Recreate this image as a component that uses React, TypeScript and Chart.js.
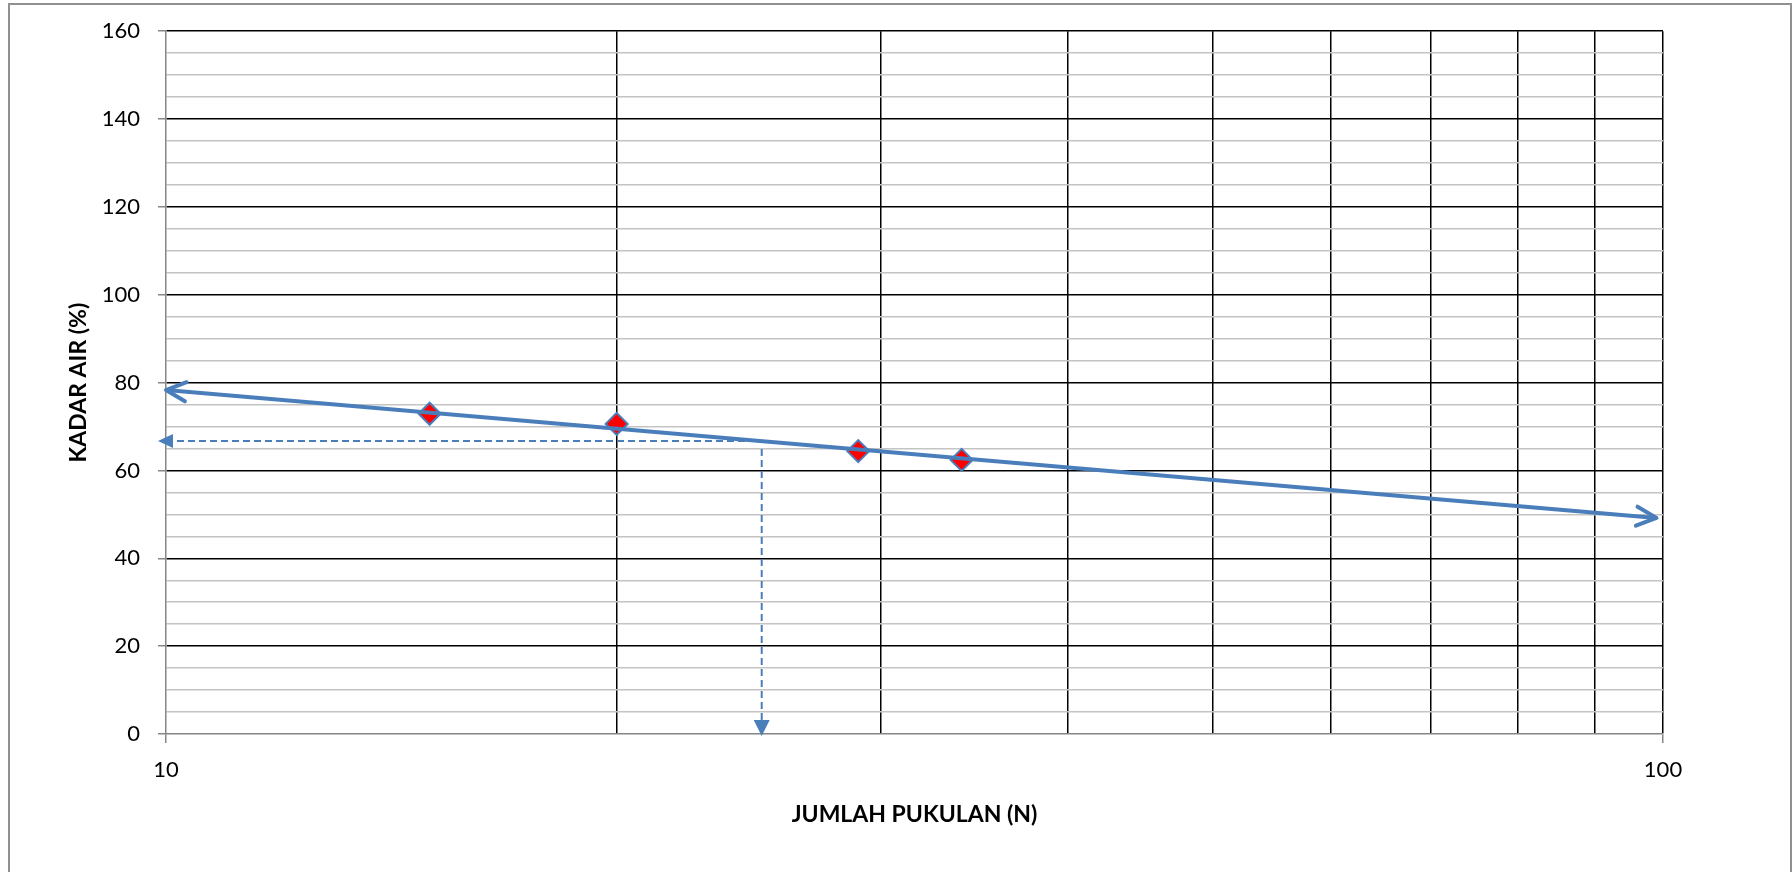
import React, { useEffect, useRef } from "react";
import { Chart, registerables } from "chart.js";

Chart.register(...registerables);

// ---- data ----
const blowCounts = [15, 20, 29, 34];
const waterContents = [72.9, 70.6, 64.4, 62.4];
const trendBlows = [10, 99];
const trendWater = [78.3, 49.2];
const guideHBlows = [10, 24.4];
const guideHWater = [66.7, 66.7];
const guideVBlows = [25, 25];
const guideVWater = [64.9, 0];
const xGridValues = [10, 20, 30, 40, 50, 60, 70, 80, 90, 100];
const xLabelValues = [10, 100];
const yMin = 0;
const yMax = 160;
const yMinorStep = 5;
const yMajorStep = 20;
const xTitle = "JUMLAH PUKULAN (N)";
const yTitle = "KADAR AIR (%)";

const BLUE = "#4A7EBB";
const AXIS_GRAY = "#868686";
const MINOR_GRAY = "#C4C4C4";
const FONT = "Lato, 'Open Sans', sans-serif";
const CLEAR = "rgba(0,0,0,0)";

const toPts = (xs: number[], ys: number[]) => xs.map((x, i) => ({ x, y: ys[i] }));

const arrowPlugin = {
  id: "arrows",
  afterDatasetsDraw(chart: any) {
    const { ctx, scales } = chart;
    const xs = scales.x;
    const ys = scales.y;
    const px = (n: number, w: number) => ({ x: xs.getPixelForValue(n), y: ys.getPixelForValue(w) });
    ctx.save();
    const a = px(trendBlows[0], trendWater[0]);
    const b = px(trendBlows[1], trendWater[1]);
    ctx.strokeStyle = BLUE;
    ctx.lineWidth = 4;
    ctx.lineCap = "round";
    ctx.lineJoin = "round";
    const chevron = (tip: any, from: any) => {
      const ang = Math.atan2(tip.y - from.y, tip.x - from.x);
      const len = 22;
      const spread = 0.45;
      ctx.beginPath();
      ctx.moveTo(tip.x - len * Math.cos(ang - spread), tip.y - len * Math.sin(ang - spread));
      ctx.lineTo(tip.x, tip.y);
      ctx.lineTo(tip.x - len * Math.cos(ang + spread), tip.y - len * Math.sin(ang + spread));
      ctx.stroke();
    };
    chevron(a, b);
    chevron(b, a);
    ctx.fillStyle = BLUE;
    const tri = (end: any, from: any, over: number, len: number, half: number) => {
      const dx = end.x - from.x;
      const dy = end.y - from.y;
      const d = Math.hypot(dx, dy) || 1;
      const ux = dx / d;
      const uy = dy / d;
      const tx = end.x + ux * over;
      const ty = end.y + uy * over;
      const bx = tx - ux * len;
      const by = ty - uy * len;
      ctx.beginPath();
      ctx.moveTo(tx, ty);
      ctx.lineTo(bx - uy * half, by + ux * half);
      ctx.lineTo(bx + uy * half, by - ux * half);
      ctx.closePath();
      ctx.fill();
    };
    tri(px(guideHBlows[0], guideHWater[0]), px(guideHBlows[1], guideHWater[1]), 8, 15, 7);
    tri(px(guideVBlows[1], guideVWater[1]), px(guideVBlows[0], guideVWater[0]), 2, 16, 8);
    ctx.restore();
  },
};

export default function App() {
  const ref = useRef<HTMLCanvasElement | null>(null);

  useEffect(() => {
    if (!ref.current) return;
    const chart = new Chart(ref.current, {
      type: "scatter",
      data: {
        datasets: [
          {
            type: "line",
            data: toPts(trendBlows, trendWater),
            borderColor: BLUE,
            borderWidth: 4,
            pointRadius: 0,
            showLine: true,
            fill: false,
            order: 0,
          },
          {
            type: "scatter",
            data: toPts(blowCounts, waterContents),
            pointStyle: "rectRot",
            pointRadius: 11,
            backgroundColor: "#FF0000",
            borderColor: BLUE,
            borderWidth: 2,
            order: 1,
          },
          {
            type: "line",
            data: toPts(guideHBlows, guideHWater),
            borderColor: BLUE,
            borderWidth: 2,
            borderDash: [7, 4],
            pointRadius: 0,
            showLine: true,
            fill: false,
            order: 2,
          },
          {
            type: "line",
            data: toPts(guideVBlows, guideVWater),
            borderColor: BLUE,
            borderWidth: 2,
            borderDash: [7, 4],
            pointRadius: 0,
            showLine: true,
            fill: false,
            order: 2,
          },
        ],
      },
      options: {
        animation: false,
        responsive: false,
        devicePixelRatio: 1,
        layout: { padding: { left: 8, top: 30, right: 129, bottom: 44 } },
        plugins: { legend: { display: false }, tooltip: { enabled: false } },
        scales: {
          x: {
            type: "logarithmic",
            position: "bottom",
            min: 10,
            max: 100,
            afterBuildTicks: (s: any) => {
              s.ticks = xGridValues.map((v) => ({ value: v }));
            },
            afterFit: (s: any) => {
              s.height = 94;
            },
            ticks: {
              autoSkip: false,
              maxRotation: 0,
              minRotation: 0,
              padding: 14,
              color: "#000",
              font: { family: FONT, size: 22 },
              callback: (v: any) => (xLabelValues.includes(Number(v)) ? String(v) : ""),
            },
            grid: {
              color: (c: any) => (c.tick && c.tick.value === xGridValues[0] ? CLEAR : "#000"),
              lineWidth: 1.5,
              tickLength: 9,
              tickColor: (c: any) => (c.tick && xLabelValues.includes(c.tick.value) ? AXIS_GRAY : CLEAR),
            },
            border: { color: AXIS_GRAY, width: 1.5 },
            title: {
              display: true,
              text: xTitle,
              color: "#000",
              font: { family: FONT, size: 23, weight: "bold" },
              padding: { top: 0, bottom: 0 },
            },
          },
          y: {
            type: "linear",
            min: yMin,
            max: yMax,
            afterFit: (s: any) => {
              s.width = 158;
            },
            ticks: {
              stepSize: yMinorStep,
              autoSkip: false,
              padding: 18,
              color: "#000",
              font: { family: FONT, size: 22 },
              callback: (v: any) => (Number(v) % yMajorStep === 0 ? String(v) : ""),
            },
            grid: {
              color: (c: any) => {
                const v = c.tick ? c.tick.value : 0;
                if (v === yMin) return CLEAR;
                return v % yMajorStep === 0 ? "#000" : MINOR_GRAY;
              },
              lineWidth: 1.5,
              tickLength: 8,
              tickColor: (c: any) => (c.tick && c.tick.value % yMajorStep === 0 ? AXIS_GRAY : CLEAR),
            },
            border: { color: AXIS_GRAY, width: 1.5 },
            title: {
              display: true,
              text: yTitle,
              color: "#000",
              font: { family: FONT, size: 23, weight: "bold" },
              padding: { top: 57, bottom: 0 },
            },
          },
        },
      },
      plugins: [arrowPlugin],
    } as any);
    return () => chart.destroy();
  }, []);

  return (
    <div
      style={{
        position: "fixed",
        left: 0,
        top: 0,
        width: 1792,
        height: 872,
        overflow: "hidden",
        background: "#fff",
      }}
    >
      <canvas ref={ref} width={1792} height={872} style={{ display: "block" }} />
      <div
        style={{
          position: "absolute",
          left: 8,
          top: 3,
          width: 1780,
          height: 900,
          borderLeft: "2px solid #909090",
          borderTop: "2px solid #909090",
          borderRight: "2px solid #909090",
          pointerEvents: "none",
        }}
      />
    </div>
  );
}
